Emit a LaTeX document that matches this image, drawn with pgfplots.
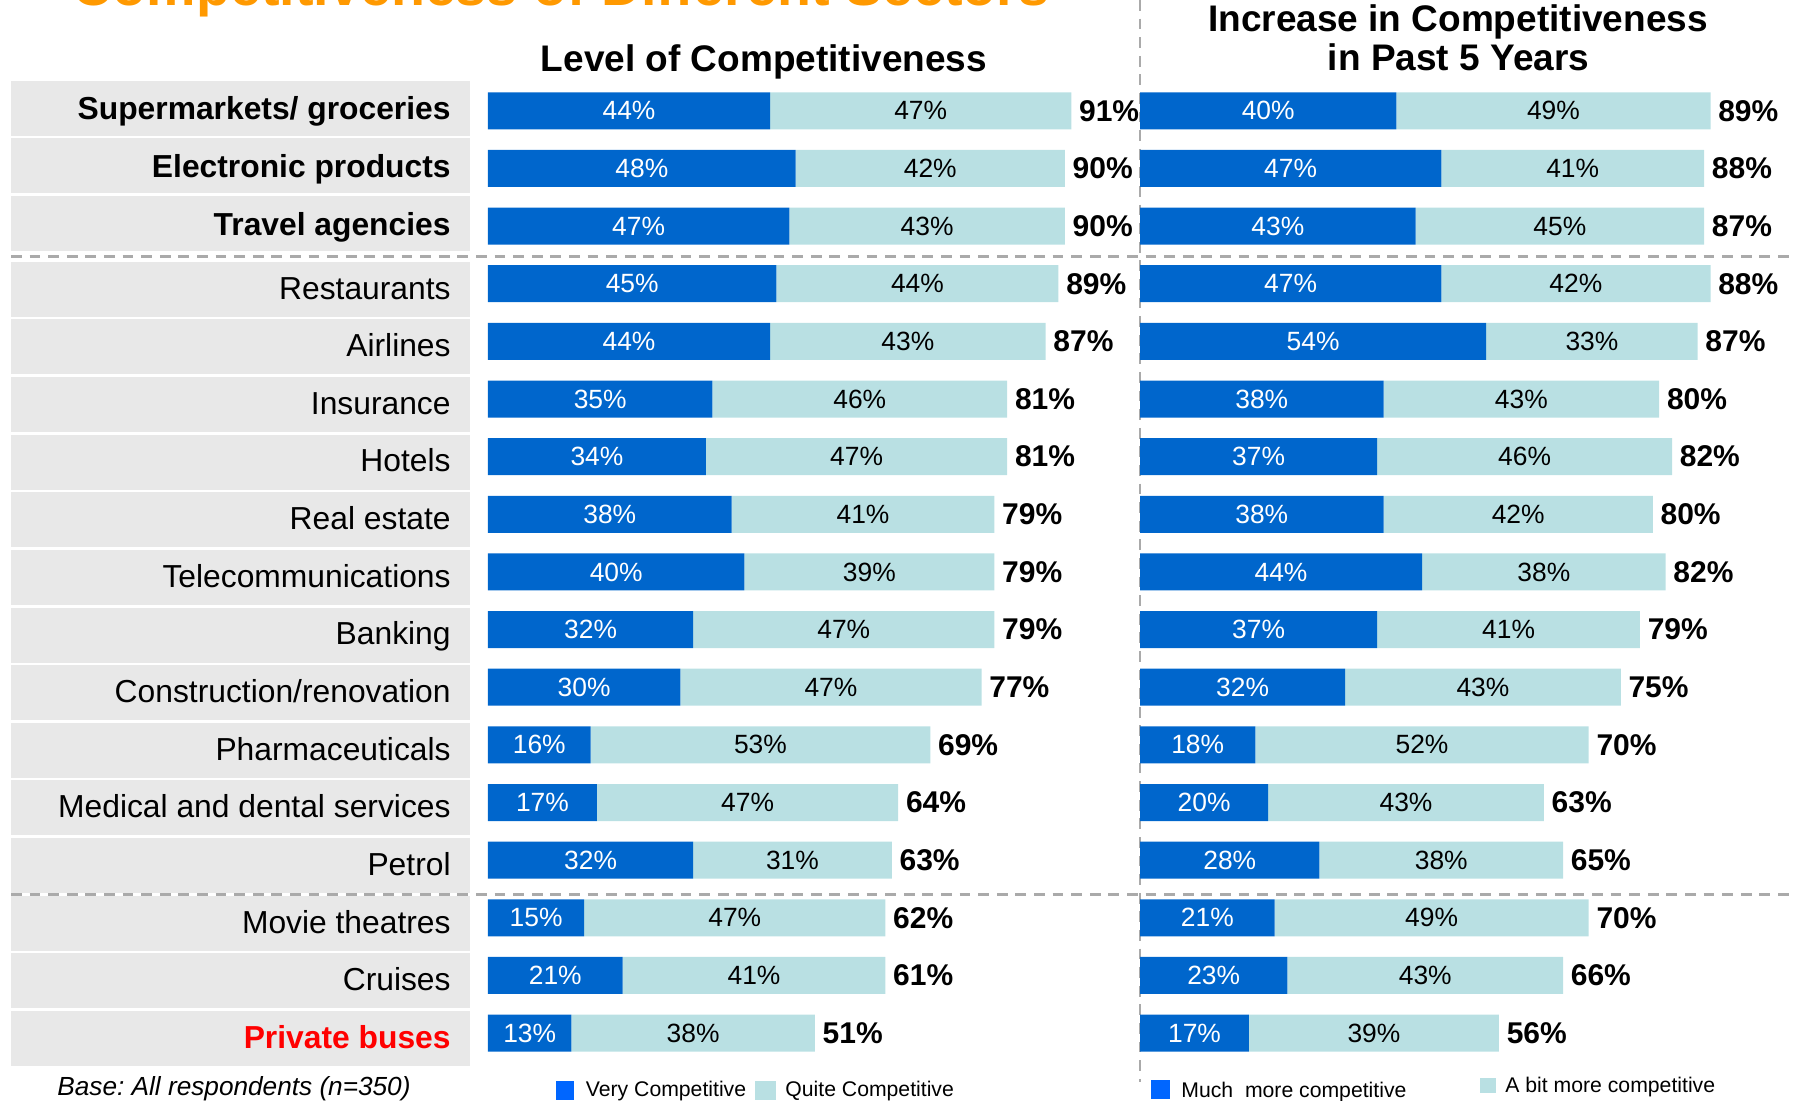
\documentclass[border=0pt]{standalone}
\usepackage{fontspec}
\setmainfont{Liberation Sans}
\usepackage{pgfplots}
\usepackage{pgfplotstable}
\pgfplotsset{compat=1.18}
\frenchspacing
\definecolor{darkbar}{HTML}{0066CC}
\definecolor{lightbar}{HTML}{B9E0E3}
\definecolor{legblue}{HTML}{0066FF}
\definecolor{boxgray}{HTML}{E8E8E8}
\definecolor{dashgray}{HTML}{AAAAAA}
\definecolor{titleorange}{HTML}{FF9900}

% Level of Competitiveness: a = Very, b = Quite, tot = total
\pgfplotstableread{
row a b tot
0 44 47 91
1 48 42 90
2 47 43 90
3 45 44 89
4 44 43 87
5 35 46 81
6 34 47 81
7 38 41 79
8 40 39 79
9 32 47 79
10 30 47 77
11 16 53 69
12 17 47 64
13 32 31 63
14 15 47 62
15 21 41 61
16 13 38 51
}\levels

% Increase in past 5 years: a = Much more, b = A bit more, tot = total
\pgfplotstableread{
row a b tot
0 40 49 89
1 47 41 88
2 43 45 87
3 47 42 88
4 54 33 87
5 38 43 80
6 37 46 82
7 38 42 80
8 44 38 82
9 37 41 79
10 32 43 75
11 18 52 70
12 20 43 63
13 28 38 65
14 21 49 70
15 23 43 66
16 17 39 56
}\increase

\pgfplotsset{
  geom/.style={
    scale only axis, width=320.5pt, height=489.95pt,
    xmin=0, xmax=100, ymin=-0.5, ymax=16.5, y dir=reverse,
    axis line style={draw=none}, tick style={draw=none},
    xtick=\empty, clip=false, enlargelimits=false, anchor=north west,
  },
  panel/.style={geom, xbar stacked, bar width=18.5pt},
  labels/.style={geom, ytick=\empty},
  seglabel/.style={
    draw=none, mark=none,
    nodes near coords={\pgfplotspointmeta\%},
    point meta=explicit symbolic, nodes near coords align=center,
    every node near coord/.append style={font=\fontsize{13.2}{14}\selectfont, inner sep=0pt, anchor=center, text=#1},
  },
  totlabel/.style={
    draw=none, mark=none,
    nodes near coords={\pgfplotspointmeta\%},
    point meta=explicit symbolic, nodes near coords align=horizontal,
    every node near coord/.append style={font=\bfseries\fontsize{15}{16}\selectfont, text=black, inner ysep=0pt, inner xsep=3.7pt, anchor=west},
  },
}

\begin{document}
\begin{tikzpicture}
\useasboundingbox (0,0) rectangle (900pt,-550.5pt);
\clip (0,0) rectangle (900pt,-550.5pt);

\begin{scope}[x=0.5pt, y=-0.5pt]
\foreach \i in {0,...,16}{
  \pgfmathsetmacro{\cc}{110.8+57.64*\i+(\i<3 ? -2.5 : 5.5)}
  \fill[boxgray] (11,\cc-27.5) rectangle (470,\cc+27.5);
}
\draw[dashgray, line width=1.5pt, dash pattern=on 5.4pt off 3.9pt] (11,257) -- (1795,257);
\draw[dashgray, line width=1.5pt, dash pattern=on 5.4pt off 3.9pt] (11,894) -- (1795,894);
\draw[dashgray, line width=1.1pt, dash pattern=on 5.4pt off 3.9pt] (1140,0) -- (1140,1082);
\end{scope}

% Left panel bars
\begin{axis}[panel, at={(244pt,-40.99pt)},
  ytick={0,...,16},
  yticklabels={
    {\raisebox{3.15pt}{\bfseries Supermarkets/ groceries}},
    {\raisebox{3.15pt}{\bfseries Electronic products}},
    {\raisebox{3.15pt}{\bfseries Travel agencies}},
    Restaurants, Airlines, Insurance, Hotels, Real estate,
    Telecommunications, Banking, Construction/renovation,
    Pharmaceuticals, Medical and dental services, Petrol,
    Movie theatres, Cruises,
    {\color{red}\bfseries Private buses}},
  yticklabel style={anchor=base east, inner sep=0pt, xshift=-18.5pt, yshift=-7.65pt, font=\fontsize{15.9}{17}\selectfont},
]
\addplot[fill=darkbar, draw=none] table[x=a, y=row] {\levels};
\addplot[fill=lightbar, draw=none] table[x=b, y=row] {\levels};
\end{axis}
% Left panel labels
\begin{axis}[labels, at={(244pt,-40.99pt)}]
\addplot[seglabel=white] table[x expr=\thisrow{a}/2, y=row, meta=a] {\levels};
\addplot[seglabel=black] table[x expr=\thisrow{a}+\thisrow{b}/2, y=row, meta=b] {\levels};
\addplot[totlabel] table[x expr=\thisrow{a}+\thisrow{b}, y=row, meta=tot] {\levels};
\end{axis}

% Right panel bars
\begin{axis}[panel, at={(570pt,-40.99pt)}, ytick=\empty]
\addplot[fill=darkbar, draw=none] table[x=a, y=row] {\increase};
\addplot[fill=lightbar, draw=none] table[x=b, y=row] {\increase};
\end{axis}
% Right panel labels
\begin{axis}[labels, at={(570pt,-40.99pt)}]
\addplot[seglabel=white] table[x expr=\thisrow{a}/2, y=row, meta=a] {\increase};
\addplot[seglabel=black] table[x expr=\thisrow{a}+\thisrow{b}/2, y=row, meta=b] {\increase};
\addplot[totlabel] table[x expr=\thisrow{a}+\thisrow{b}, y=row, meta=tot] {\increase};
\end{axis}

\begin{scope}[x=0.5pt, y=-0.5pt]
\node[anchor=base, inner sep=0pt, text=titleorange, font=\bfseries\fontsize{27.8}{30}\selectfont] at (561,6) {Competitiveness of Different Sectors};
\node[anchor=base, inner sep=0pt, font=\bfseries\fontsize{18.5}{20}\selectfont] at (764,71.7) {Level of Competitiveness};
\node[anchor=base, inner sep=0pt, font=\bfseries\fontsize{18.5}{20}\selectfont] at (1458,31.7) {Increase in Competitiveness};
\node[anchor=base, inner sep=0pt, font=\bfseries\fontsize{18.5}{20}\selectfont] at (1458.5,70.7) {in Past 5 Years};
% base note
\node[anchor=base west, inner sep=0pt, font=\itshape\fontsize{13.1}{14}\selectfont] at (57,1095) {Base: All respondents (n=350)};
% legends
\fill[legblue] (555.7,1080.7) rectangle (574,1100);
\node[anchor=base west, inner sep=0pt, font=\fontsize{10.6}{12}\selectfont] at (585.5,1096) {Very Competitive};
\fill[lightbar] (755,1080.7) rectangle (776,1100);
\node[anchor=base west, inner sep=0pt, font=\fontsize{10.6}{12}\selectfont] at (785,1096) {Quite Competitive};
\fill[legblue] (1150.5,1080) rectangle (1169.7,1099);
\node[anchor=base west, inner sep=0pt, font=\fontsize{10.6}{12}\selectfont] at (1181,1097) {Much\ \ more competitive};
\fill[lightbar] (1479.6,1078) rectangle (1496,1093);
\node[anchor=base west, inner sep=0pt, font=\fontsize{10.6}{12}\selectfont] at (1505,1092.7) {A bit more competitive};
\end{scope}
\end{tikzpicture}
\end{document}
